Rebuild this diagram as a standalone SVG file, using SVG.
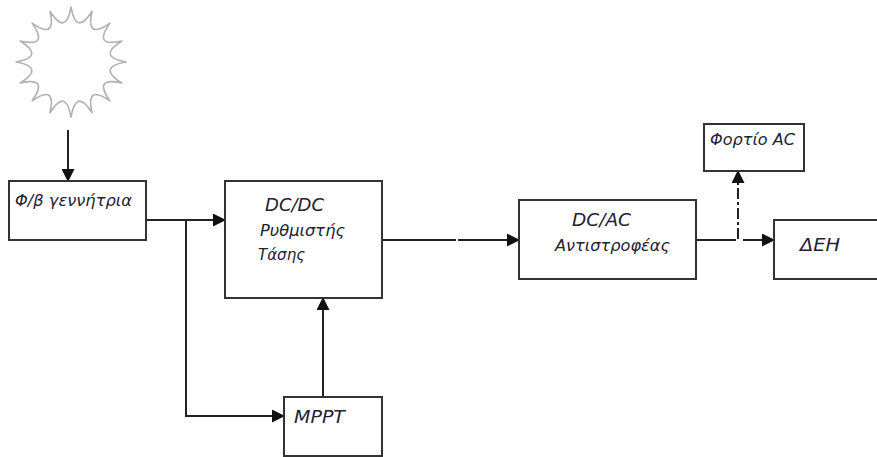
<svg xmlns="http://www.w3.org/2000/svg" width="877" height="457" viewBox="0 0 877 457">
<style>
.box{fill:#fff;stroke:#333;stroke-width:2}
.line{fill:none;stroke:#222;stroke-width:2}
.lab{font-family:"DejaVu Sans","Liberation Sans",sans-serif;font-style:italic;font-size:16.3px;fill:#222233}
.cap{font-size:17px}
</style>
<defs>
<marker id="arr" markerUnits="userSpaceOnUse" markerWidth="13" markerHeight="13" refX="12" refY="6.5" orient="auto"><path d="M0 0L13 6.5L0 13Z" fill="#111"/></marker>
</defs>
<rect width="877" height="457" fill="#fff"/>
<g id="sun"><path d="M71 7Q76.100 36.500 92 11.200Q85.400 40.400 109.900 23.100Q92.600 47.600 121.800 41Q96.500 56.900 126 62Q96.500 67.100 121.800 83Q92.600 76.400 109.900 100.900Q85.400 83.600 92 112.800Q76.100 87.500 71 117Q65.900 87.500 50 112.800Q56.600 83.600 32.100 100.900Q49.400 76.400 20.200 83Q45.500 67.100 16 62Q45.500 56.900 20.200 41Q49.400 47.600 32.100 23.100Q56.600 40.400 50 11.200Q65.900 36.500 71 7Z" fill="#fff" stroke="#b0b0b8" stroke-width="1.6" stroke-linejoin="round"/></g>
<g id="connectors">
<path class="line" d="M68 130V181" marker-end="url(#arr)"/>
<path class="line" d="M146 220H225" marker-end="url(#arr)"/>
<path class="line" d="M186 220V416H284" marker-end="url(#arr)"/>
<path class="line" d="M323 397V298" marker-end="url(#arr)"/>
<path class="line" d="M382 240H456"/>
<path class="line" d="M458 240H519" marker-end="url(#arr)"/>
<path class="line" d="M696 240H736"/>
<path class="line" d="M743 240H774" marker-end="url(#arr)"/>
<path class="line" d="M738 239V171" stroke-dasharray="11 3 3 3" marker-end="url(#arr)"/>
</g>
<g id="node-pv"><rect class="box" x="9" y="181" width="137" height="59"/><text class="lab" x="15" y="206" textLength="117" lengthAdjust="spacingAndGlyphs">Φ/β γεννήτρια</text></g>
<g id="node-dcdc"><rect class="box" x="225" y="181" width="157" height="117"/><text class="lab cap" x="265" y="211" textLength="59" lengthAdjust="spacingAndGlyphs">DC/DC</text><text class="lab" x="260" y="236" textLength="85" lengthAdjust="spacingAndGlyphs">Ρυθμιστής</text><text class="lab" x="258" y="260" textLength="47" lengthAdjust="spacingAndGlyphs">Τάσης</text></g>
<g id="node-mppt"><rect class="box" x="284" y="397" width="98" height="59"/><text class="lab" x="294" y="423" textLength="51" lengthAdjust="spacingAndGlyphs" style="font-size:18.500px">MPPT</text></g>
<g id="node-dcac"><rect class="box" x="519" y="200" width="177" height="79"/><text class="lab cap" x="572" y="226" textLength="59" lengthAdjust="spacingAndGlyphs">DC/AC</text><text class="lab" x="555" y="251" textLength="115" lengthAdjust="spacingAndGlyphs">Αντιστροφέας</text></g>
<g id="node-load"><rect class="box" x="704" y="124" width="100" height="47"/><text class="lab" x="710" y="145" textLength="85" lengthAdjust="spacingAndGlyphs">Φορτίο AC</text></g>
<g id="node-grid"><rect class="box" x="774" y="220" width="105" height="59"/><text class="lab cap" x="800" y="251" textLength="40" lengthAdjust="spacingAndGlyphs">ΔΕΗ</text></g>
</svg>
